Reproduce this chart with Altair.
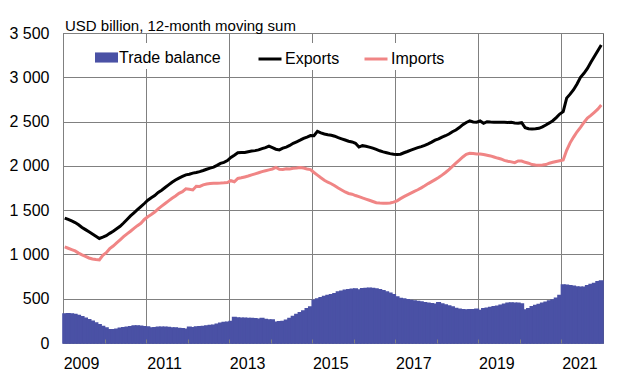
import altair as alt
import pandas as pd

FONT = "Liberation Sans"
BLUE = "#4a51a5"
PINK = "#f08585"
GRID = "#808080"

# 12-month moving sums, USD billion, monthly Jan 2009 .. Dec 2021
exports = [
    1410, 1395, 1378, 1360, 1335, 1305, 1280, 1255, 1230, 1205, 1180, 1195,  # 2009
    1212, 1238, 1262, 1290, 1318, 1355, 1395, 1435, 1470, 1505, 1540, 1575,  # 2010
    1612, 1640, 1665, 1700, 1725, 1755, 1785, 1815, 1840, 1862, 1880, 1898,  # 2011
    1905, 1918, 1925, 1935, 1948, 1962, 1975, 1985, 2005, 2028, 2040, 2060,  # 2012
    2095, 2120, 2148, 2150, 2152, 2160, 2168, 2172, 2180, 2195, 2205, 2222,  # 2013
    2205, 2188, 2180, 2200, 2212, 2230, 2255, 2272, 2290, 2310, 2325, 2342,  # 2014
    2340, 2390, 2372, 2360, 2352, 2345, 2335, 2318, 2305, 2292, 2278, 2270,  # 2015
    2255, 2212, 2228, 2222, 2212, 2200, 2185, 2170, 2158, 2148, 2138, 2130,  # 2016
    2128, 2132, 2148, 2162, 2178, 2192, 2205, 2218, 2232, 2248, 2268, 2290,  # 2017
    2305, 2325, 2340, 2360, 2385, 2405, 2432, 2465, 2490, 2508, 2495, 2492,  # 2018
    2506, 2480, 2498, 2495, 2493, 2492, 2493, 2492, 2490, 2492, 2485, 2480,  # 2019
    2487, 2432, 2420, 2416, 2418, 2424, 2440, 2462, 2485, 2510, 2545, 2585,  # 2020
    2612, 2765, 2810, 2860, 2925, 3000, 3045, 3100, 3170, 3235, 3300, 3364,  # 2021
]
imports = [
    1085, 1070, 1055, 1040, 1015, 995, 978, 960, 948, 942, 938, 990,        # 2009
    1020, 1065, 1095, 1130, 1165, 1200, 1232, 1262, 1295, 1325, 1352, 1395,  # 2010
    1425, 1450, 1478, 1515, 1545, 1575, 1605, 1635, 1660, 1690, 1708, 1740,  # 2011
    1735, 1728, 1770, 1768, 1785, 1795, 1800, 1803, 1805, 1806, 1808, 1812,  # 2012
    1832, 1820, 1858, 1865, 1875, 1885, 1898, 1910, 1922, 1935, 1945, 1955,  # 2013
    1965, 1982, 1962, 1960, 1968, 1965, 1972, 1975, 1982, 1975, 1965, 1958,  # 2014
    1925, 1895, 1865, 1838, 1815, 1798, 1775, 1750, 1728, 1705, 1688, 1680,  # 2015
    1665, 1652, 1638, 1625, 1612, 1598, 1584, 1580, 1578, 1577, 1580, 1590,  # 2016
    1605, 1630, 1652, 1672, 1692, 1712, 1730, 1752, 1775, 1800, 1822, 1845,  # 2017
    1868, 1895, 1925, 1958, 1995, 2030, 2065, 2100, 2130, 2142, 2140, 2135,  # 2018
    2134, 2128, 2120, 2112, 2100, 2088, 2078, 2062, 2052, 2045, 2036, 2055,  # 2019
    2055, 2040, 2030, 2015, 2010, 2008, 2010, 2015, 2030, 2040, 2050, 2058,  # 2020
    2066, 2175, 2260, 2325, 2385, 2435, 2490, 2540, 2570, 2605, 2640, 2687,  # 2021
]
balance = [
    328, 330, 326, 322, 310, 295, 280, 262, 245, 225, 205, 185,  # 2009
    168, 150, 148, 155, 165, 172, 178, 183, 190, 192, 188, 184,  # 2010
    180, 170, 172, 178, 176, 177, 174, 170, 168, 163, 160, 156,  # 2011
    178, 172, 180, 184, 185, 190, 196, 200, 210, 222, 230, 235,  # 2012
    242, 286, 282, 280, 278, 276, 275, 272, 268, 275, 265, 260,  # 2013
    258, 233, 238, 242, 255, 275, 300, 320, 340, 360, 385, 405,  # 2014
    482, 495, 510, 525, 535, 545, 555, 575, 585, 595, 600, 605,  # 2015
    608, 598, 612, 614, 617, 615, 610, 600, 590, 575, 562, 545,  # 2016
    520, 502, 495, 488, 480, 475, 468, 462, 455, 448, 442, 437,  # 2017
    455, 440, 428, 418, 405, 390, 380, 375, 373, 374, 376, 380,  # 2018
    365, 385, 392, 400, 408, 415, 425, 438, 448, 450, 448, 448,  # 2019
    440, 373, 385, 410, 422, 435, 448, 460, 475, 485, 505, 535,  # 2020
    655, 652, 645, 640, 632, 628, 630, 645, 660, 672, 690, 700,  # 2021
]
label_years = [2009, 2011, 2013, 2015, 2017, 2019, 2021]
tick_years = list(range(2010, 2022))
y_ticks = [0, 500, 1000, 1500, 2000, 2500, 3000, 3500]

START = 2009
n = len(exports)
t0 = [START + i / 12 for i in range(n)]
t1 = [START + (i + 1) / 12 for i in range(n)]
tm = [START + (i + 0.5) / 12 for i in range(n)]

bars_df = pd.DataFrame({"t0": t0, "t1": t1, "value": balance, "base": 0,
                        "series": "Trade balance"})
lines_df = pd.concat([
    pd.DataFrame({"t": tm, "value": exports, "series": "Exports"}),
    pd.DataFrame({"t": tm, "value": imports, "series": "Imports"}),
])

W, H = 540, 310
xs = alt.Scale(domain=[2009, 2022], nice=False, zero=False)
ys = alt.Scale(domain=[0, 3500], nice=False)

y_axis = alt.Axis(
    values=y_ticks, grid=True, gridColor=GRID, gridWidth=1, domain=False,
    ticks=False, tickSize=0, labelPadding=14, labelFontSize=16, labelFont=FONT,
    labelColor="black", title=None,
    labelExpr="replace(format(datum.value, ','), ',', ' ')",
)

bars = alt.Chart(bars_df).mark_bar(stroke=BLUE, strokeWidth=1.6, strokeOpacity=1,
                                   fillOpacity=1, opacity=1).encode(
    x=alt.X("t0:Q", scale=xs, axis=alt.Axis(
        values=label_years, grid=True, gridColor=GRID, gridWidth=1,
        ticks=False, tickSize=0, domain=False, labelOffset=18, labelPadding=12,
        labelFontSize=16, labelFont=FONT, labelColor="black", format="d",
        labelFlush=False, labelOverlap=False, title=None)),
    x2="t1:Q",
    y=alt.Y("value:Q", scale=ys, axis=y_axis),
    y2="base:Q",
    fill=alt.Fill("series:N", scale=alt.Scale(domain=["Trade balance"], range=[BLUE]),
                  legend=alt.Legend(
                      title=None, orient="none", legendX=29, legendY=10,
                      direction="horizontal", symbolType="M-1,-0.44H1V0.44H-1Z",
                      symbolSize=529, symbolStrokeWidth=0, symbolOpacity=1,
                      labelFontSize=16, labelFont=FONT, labelColor="black",
                      labelOffset=1, fillColor="white", padding=3)),
)

lines = alt.Chart(lines_df).mark_line(strokeWidth=3).encode(
    x=alt.X("t:Q", scale=xs, axis=alt.Axis(
        orient="top", offset=-H, values=tick_years, ticks=True, tickSize=4,
        tickColor=GRID, tickWidth=1, labels=False, domain=False, grid=False,
        title=None, zindex=1)),
    y=alt.Y("value:Q", scale=ys, axis=y_axis),
    stroke=alt.Stroke("series:N", scale=alt.Scale(domain=["Exports", "Imports"], range=["black", PINK]),
                      legend=alt.Legend(
                          title=None, orient="none", legendX=191, legendY=10,
                          direction="horizontal", symbolType="stroke", symbolSize=529,
                          symbolStrokeWidth=3, labelFontSize=16, labelFont=FONT,
                          labelColor="black", labelOffset=2, columnPadding=18,
                          fillColor="white", padding=3)),
    detail="series:N",
)

chart = alt.layer(bars, lines).resolve_axis(x="independent").properties(
    width=W, height=H,
    title=alt.TitleParams("USD billion, 12-month moving sum", anchor="start", frame="group",
                          fontSize=15, fontWeight="normal", font=FONT, color="black",
                          baseline="top", offset=0, dx=2, dy=9),
    autosize=alt.AutoSizeParams(type="none"),
    padding={"left": 63, "top": 33, "right": 21, "bottom": 34},
).configure(font=FONT).configure_view(stroke="#606060", strokeWidth=1)

chart.save("out.html", embed_options={"renderer": "svg", "actions": False})
